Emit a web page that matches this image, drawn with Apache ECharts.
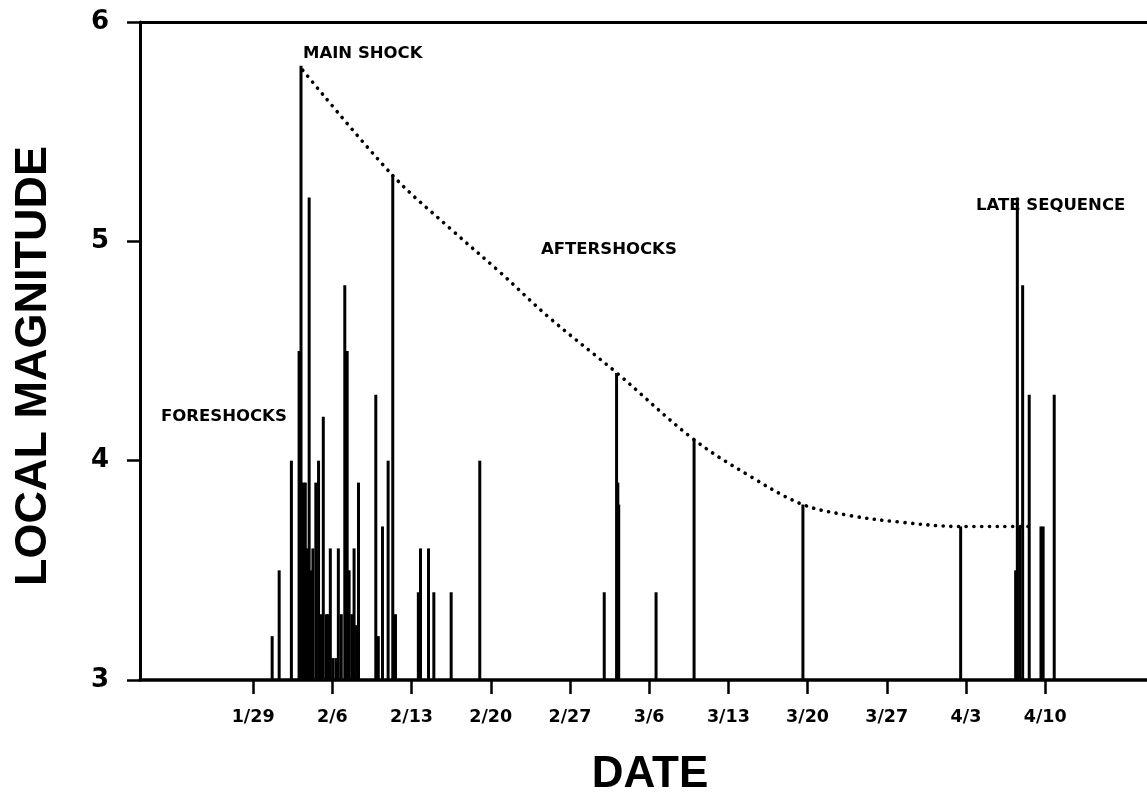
<!DOCTYPE html>
<html>
<head>
<meta charset="utf-8">
<style>
  html, body { margin: 0; padding: 0; background: #fff; }
  #chart { width: 1147px; height: 794px; }
</style>
<script src="https://cdn.jsdelivr.net/npm/echarts@6/dist/echarts.min.js"></script>
</head>
<body>
<div id="chart"></div>
<script>
// Days counted from the "1/29" tick
var tickDays = [0, 7, 14, 21, 28, 35, 42, 49, 56, 63, 70];
var tickLabels = ['1/29', '2/6', '2/13', '2/20', '2/27', '3/6', '3/13', '3/20', '3/27', '4/3', '4/10'];

var quakeDays = [
  1.68, 2.30, 3.38, 4.06, 4.23, 4.44, 4.61, 4.75, 4.95, 5.14,
  5.28, 5.54, 5.78, 5.98, 6.20, 6.47, 6.64, 6.82, 7.04, 7.31,
  7.53, 7.79, 8.10, 8.31, 8.48, 8.72, 8.92, 9.14, 9.31, 10.84,
  11.06, 11.43, 11.93, 12.34, 12.58, 14.60, 14.79, 15.50, 15.97, 17.50,
  20.03, 31.03, 32.12, 32.23, 32.31, 35.61, 38.97, 48.59, 62.53, 67.39,
  67.54, 67.75, 68.01, 68.59, 69.63, 69.82, 70.80
];
var quakeMags = [
  3.2, 3.5, 4.0, 4.5, 5.8, 3.9, 3.9, 3.6, 5.2, 3.5,
  3.6, 3.9, 4.0, 3.3, 4.2, 3.3, 3.3, 3.6, 3.1, 3.1,
  3.6, 3.3, 4.8, 4.5, 3.5, 3.3, 3.6, 3.25, 3.9, 4.3,
  3.2, 3.7, 4.0, 5.3, 3.3, 3.4, 3.6, 3.6, 3.4, 3.4,
  4.0, 3.4, 4.4, 3.9, 3.8, 3.4, 4.1, 3.8, 3.7, 3.5,
  5.2, 3.7, 4.8, 4.3, 3.7, 3.7, 4.3
];

var envelopeDays = [4.39, 12.34, 17.38, 21.80, 26.22, 32.14, 38.86, 43.89, 48.58, 52.73, 57.15, 62.45, 68.81];
var envelopeMags = [5.78, 5.30, 5.06, 4.86, 4.65, 4.40, 4.10, 3.93, 3.80, 3.75, 3.72, 3.70, 3.70];

var annotations = [
  { text: 'MAIN SHOCK', x: 303, y: 53 },
  { text: 'AFTERSHOCKS', x: 541, y: 249 },
  { text: 'FORESHOCKS', x: 161, y: 416 },
  { text: 'LATE SEQUENCE', x: 976, y: 205 }
];

var quakeData = quakeDays.map(function (d, i) { return [d, quakeMags[i]]; });
var envelopeData = envelopeDays.map(function (d, i) { return [d, envelopeMags[i]]; });

var chart = echarts.init(document.getElementById('chart'), null, { renderer: 'canvas' });

var ink = '#000';
var option = {
  backgroundColor: '#fff',
  animation: false,
  grid: { left: 140, right: 0, top: 22, bottom: 114, containLabel: false, outerBoundsMode: 'none' },
  xAxis: [{
    type: 'value',
    min: -10,
    max: 79,
    splitLine: { show: false },
    axisLine: { show: true, onZero: false, lineStyle: { color: ink, width: 3.5 } },
    axisTick: { show: true, customValues: tickDays, length: 14, lineStyle: { color: ink, width: 2.5 } },
    axisLabel: {
      show: true,
      customValues: tickDays,
      margin: 28,
      color: ink,
      fontFamily: 'DejaVu Sans',
      fontWeight: 'bold',
      fontSize: 17.5,
      formatter: function (v) {
        var i = tickDays.indexOf(v);
        return i >= 0 ? tickLabels[i] : '';
      }
    }
  }, {
    type: 'value',
    position: 'top',
    min: -10,
    max: 79,
    splitLine: { show: false },
    axisLine: { show: true, onZero: false, lineStyle: { color: ink, width: 3 } },
    axisTick: { show: false },
    axisLabel: { show: false }
  }],
  yAxis: {
    type: 'value',
    min: 3,
    max: 6,
    interval: 1,
    splitLine: { show: false },
    axisLine: { show: true, onZero: false, lineStyle: { color: ink, width: 3 } },
    axisTick: { show: true, length: 13, lineStyle: { color: ink, width: 2.5 } },
    axisLabel: {
      margin: 31,
      color: ink,
      fontFamily: 'DejaVu Sans',
      fontWeight: 'bold',
      fontSize: 26
    }
  },
  series: [{
    type: 'bar',
    xAxisIndex: 0,
    data: quakeData,
    barWidth: 3,
    clip: true,
    itemStyle: { color: ink },
    z: 2
  }, {
    type: 'line',
    xAxisIndex: 0,
    data: envelopeData,
    smooth: 0.35,
    showSymbol: false,
    symbol: 'none',
    lineStyle: { color: ink, width: 3.6, type: [0.1, 7.6], cap: 'round' },
    z: 3
  }],
  graphic: annotations.map(function (a) {
    return {
      type: 'text',
      left: a.x,
      top: a.y - 8,
      style: {
        text: a.text,
        fill: ink,
        font: 'bold 16.5px "DejaVu Sans"',
        textVerticalAlign: 'top'
      }
    };
  }).concat([{
    type: 'text',
    x: 650,
    y: 775,
    style: {
      text: 'DATE',
      fill: ink,
      font: 'bold 44px "Liberation Sans"',
      textAlign: 'center',
      textVerticalAlign: 'middle'
    }
  }, {
    type: 'text',
    x: 34,
    y: 366,
    rotation: Math.PI / 2,
    style: {
      text: 'LOCAL MAGNITUDE',
      fill: ink,
      font: 'bold 45px "Liberation Sans"',
      textAlign: 'center',
      textVerticalAlign: 'middle'
    }
  }])
};

chart.setOption(option);
</script>
</body>
</html>
